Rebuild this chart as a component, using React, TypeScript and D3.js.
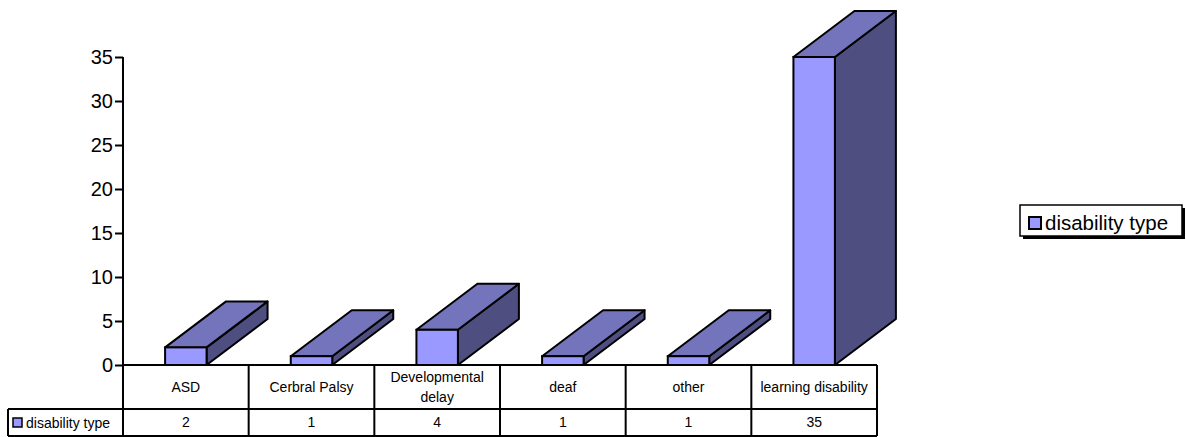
import React, { useEffect, useRef } from 'react';
import * as d3 from "d3";

const categories = ["ASD", "Cerbral Palsy", "Developmental delay", "deaf", "other", "learning disability"];
const categoryLines = [["ASD"], ["Cerbral Palsy"], ["Developmental", "delay"], ["deaf"], ["other"], ["learning disability"]];
const values = [2, 1, 4, 1, 1, 35];
const seriesName = "disability type";
const yTicks = [0, 5, 10, 15, 20, 25, 30, 35];

const W = 1186;
const H = 437;
const FONT = "'Liberation Sans', Arial, sans-serif";

const App = () => {
    const svgRef = useRef<SVGSVGElement | null>(null);

    useEffect(() => {
        if (!svgRef.current) return;
        const svg = d3.select(svgRef.current);
        svg.selectAll("*").remove();

        const left = 123, right = 877;
        const base = 365, top = 57;
        const rowMid = 409, rowBottom = 436, tableLeft = 8;
        const depthX = 61, depthY = 46;

        const x = d3.scaleBand<string>().domain(categories).range([left, right]).paddingInner(0).paddingOuter(0);
        const y = d3.scaleLinear().domain([0, 35]).range([base, top]);
        const barW = x.bandwidth() * 0.33;

        const front = "#9999ff", topC = "#7474bd", side = "#4e4e80";

        // bars
        const g = svg.append("g");
        categories.forEach((c, i) => {
            const x0 = (x(c) || 0) + (x.bandwidth() - barW) / 2;
            const x1 = x0 + barW;
            const yT = y(values[i]);
            const bar = g.append("g");
            bar.append("polygon")
                .attr("points", [[x1, base], [x1 + depthX, base - depthY], [x1 + depthX, yT - depthY], [x1, yT]].map(p => p.join(",")).join(" "))
                .attr("fill", side).attr("stroke", "#000").attr("stroke-width", 2).attr("stroke-linejoin", "round");
            bar.append("polygon")
                .attr("points", [[x0, yT], [x0 + depthX, yT - depthY], [x1 + depthX, yT - depthY], [x1, yT]].map(p => p.join(",")).join(" "))
                .attr("fill", topC).attr("stroke", "#000").attr("stroke-width", 2).attr("stroke-linejoin", "round");
            bar.append("rect")
                .attr("x", x0).attr("y", yT).attr("width", barW).attr("height", base - yT)
                .attr("fill", front).attr("stroke", "#000").attr("stroke-width", 2);
        });

        // y axis
        const yAxis = d3.axisLeft(y).tickValues(yTicks).tickSize(8).tickPadding(2);
        const ax = svg.append("g").attr("transform", `translate(${left},0)`).call(yAxis);
        ax.select(".domain").remove();
        ax.selectAll("line").attr("stroke", "#000").attr("stroke-width", 2);
        ax.selectAll("text").attr("font-family", FONT).attr("font-size", 20).attr("fill", "#000");

        const lines = svg.append("g").attr("stroke", "#000").attr("stroke-width", 2);
        lines.append("line").attr("x1", left).attr("x2", left).attr("y1", top).attr("y2", rowBottom);
        lines.append("line").attr("x1", left).attr("x2", right).attr("y1", base).attr("y2", base);
        lines.append("line").attr("x1", tableLeft).attr("x2", right).attr("y1", rowMid).attr("y2", rowMid);
        lines.append("line").attr("x1", tableLeft).attr("x2", right).attr("y1", rowBottom).attr("y2", rowBottom);
        lines.append("line").attr("x1", tableLeft).attr("x2", tableLeft).attr("y1", rowMid).attr("y2", rowBottom);
        categories.forEach(c => {
            const xe = (x(c) || 0) + x.bandwidth();
            lines.append("line").attr("x1", xe).attr("x2", xe).attr("y1", base).attr("y2", rowBottom);
        });

        // table text
        const tt = svg.append("g").attr("font-family", FONT).attr("font-size", 14).attr("fill", "#000").attr("text-anchor", "middle");
        categories.forEach((c, i) => {
            const cx = (x(c) || 0) + x.bandwidth() / 2;
            const ls = categoryLines[i];
            ls.forEach((t, j) => {
                tt.append("text").attr("x", cx).attr("y", (base + rowMid) / 2 + (j - (ls.length - 1) / 2) * 20).attr("dy", "0.35em").text(t);
            });
            tt.append("text").attr("x", cx).attr("y", (rowMid + rowBottom) / 2).attr("dy", "0.35em").text(values[i]);
        });
        svg.append("rect").attr("x", 13).attr("y", 418).attr("width", 9).attr("height", 9)
            .attr("fill", front).attr("stroke", "#000").attr("stroke-width", 1.5);
        svg.append("text").attr("x", 26).attr("y", 423).attr("dy", "0.35em")
            .attr("font-family", FONT).attr("font-size", 14).text(seriesName);

        // legend
        const lg = svg.append("g");
        lg.append("rect").attr("x", 1023).attr("y", 208).attr("width", 162).attr("height", 31).attr("fill", "#000");
        lg.append("rect").attr("x", 1020).attr("y", 205).attr("width", 162).attr("height", 31)
            .attr("fill", "#fff").attr("stroke", "#000").attr("stroke-width", 1.5);
        lg.append("rect").attr("x", 1029).attr("y", 217).attr("width", 12).attr("height", 12)
            .attr("fill", front).attr("stroke", "#000").attr("stroke-width", 2);
        lg.append("text").attr("x", 1045).attr("y", 223).attr("dy", "0.35em")
            .attr("font-family", FONT).attr("font-size", 20.5).text(seriesName);
    }, []);

    return (
        <svg ref={svgRef} width={W} height={H} style={{ position: "absolute", left: 0, top: 0, background: "#fff" }}></svg>
    );
};

export default App;
